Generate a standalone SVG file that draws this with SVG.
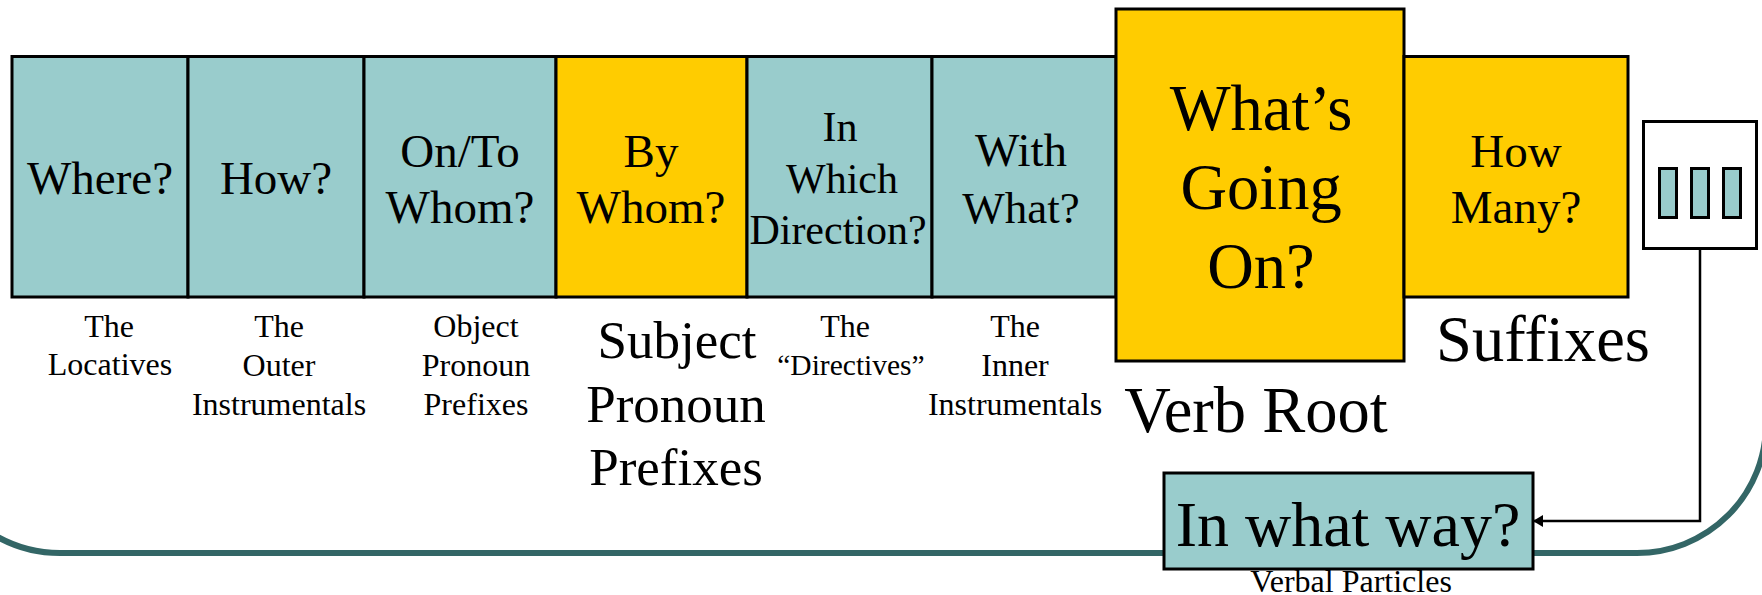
<svg xmlns="http://www.w3.org/2000/svg" width="1762" height="595" viewBox="0 0 1762 595">
<style>
text{font-family:"Liberation Serif","Times New Roman",serif;fill:#000;text-anchor:middle}
.teal{fill:#99cccc;stroke:#000;stroke-width:3}
.gold{fill:#ffcc00;stroke:#000;stroke-width:3}
.m{font-size:47px}.d{font-size:42px}.b{font-size:64.500px}.s{font-size:32px}.l{font-size:53px}
.conn{fill:none;stroke:#000;stroke-width:2.5}
</style>
<defs><marker id="ah" markerUnits="userSpaceOnUse" markerWidth="10" markerHeight="12" refX="9" refY="6" orient="auto"><path d="M0 0L10 6L0 12z" fill="#000"/></marker></defs>
<rect width="1762" height="595" fill="#fff"/>
<path id="frame" d="M-10 532.400A129 129 0 0 0 60 553H1637A129 129 0 0 0 1766 424" fill="none" stroke="#336666" stroke-width="6"/>
<g id="n-where"><rect class="teal" x="12" y="56.500" width="176" height="240.500"/><text class="m" x="100" y="194">Where?</text></g>
<g id="n-how"><rect class="teal" x="188" y="56.500" width="176" height="240.500"/><text class="m" x="276" y="194">How?</text></g>
<g id="n-onto"><rect class="teal" x="364" y="56.500" width="192" height="240.500"/><text class="m" x="460" y="167">On/To</text><text class="m" x="460" y="223">Whom?</text></g>
<g id="n-by"><rect class="gold" x="556" y="56.500" width="191" height="240.500"/><text class="m" x="651" y="167">By</text><text class="m" x="651" y="223">Whom?</text></g>
<g id="n-dir"><rect class="teal" x="747" y="56.500" width="185" height="240.500"/><text class="d" x="840" y="141">In</text><text class="d" x="842" y="193">Which</text><text class="d" x="838" y="244">Direction?</text></g>
<g id="n-with"><rect class="teal" x="932" y="56.500" width="184" height="240.500"/><text class="m" x="1021" y="166">With</text><text class="m" x="1021" y="223" style="font-size:45px">What?</text></g>
<g id="n-root"><rect class="gold" x="1116" y="9" width="288" height="352"/><text class="b" x="1261" y="130">What’s</text><text class="b" x="1261" y="209">Going</text><text class="b" x="1261" y="288">On?</text></g>
<g id="n-suffix"><rect class="gold" x="1404" y="56.500" width="224" height="240.500"/><text class="m" x="1516" y="167">How</text><text class="m" x="1516" y="223">Many?</text></g>
<g id="n-particles-slot"><rect x="1643.500" y="121.500" width="113" height="127" fill="#fff" stroke="#000" stroke-width="3"/><rect class="teal" x="1659.500" y="168.500" width="17" height="49"/><rect class="teal" x="1691.500" y="168.500" width="17" height="49"/><rect class="teal" x="1723.500" y="168.500" width="17" height="49"/></g>
<g id="n-way"><rect class="teal" x="1164" y="473" width="369" height="96"/><text class="b" x="1348" y="546" style="font-size:64px">In what way?</text></g>
<g id="connectors"><path class="conn" d="M1700 249V521H1534" marker-end="url(#ah)"/></g>
<g id="labels">
<text class="s" x="109" y="337">The</text><text class="s" x="110" y="375">Locatives</text>
<text class="s" x="279" y="337">The</text><text class="s" x="279" y="376">Outer</text><text class="s" x="279" y="415">Instrumentals</text>
<text class="s" x="476" y="337">Object</text><text class="s" x="476" y="376">Pronoun</text><text class="s" x="476" y="415">Prefixes</text>
<text class="l" x="677" y="358">Subject</text><text class="l" x="676" y="422">Pronoun</text><text class="l" x="676" y="485">Prefixes</text>
<text class="s" x="845" y="337">The</text><text class="s" x="851" y="375" style="font-size:29.500px">“Directives”</text>
<text class="s" x="1015" y="337">The</text><text class="s" x="1015" y="376">Inner</text><text class="s" x="1015" y="415">Instrumentals</text>
<text class="b" x="1256" y="432">Verb Root</text>
<text class="b" x="1543" y="361">Suffixes</text>
<text class="s" x="1351" y="592">Verbal Particles</text>
</g>
</svg>
